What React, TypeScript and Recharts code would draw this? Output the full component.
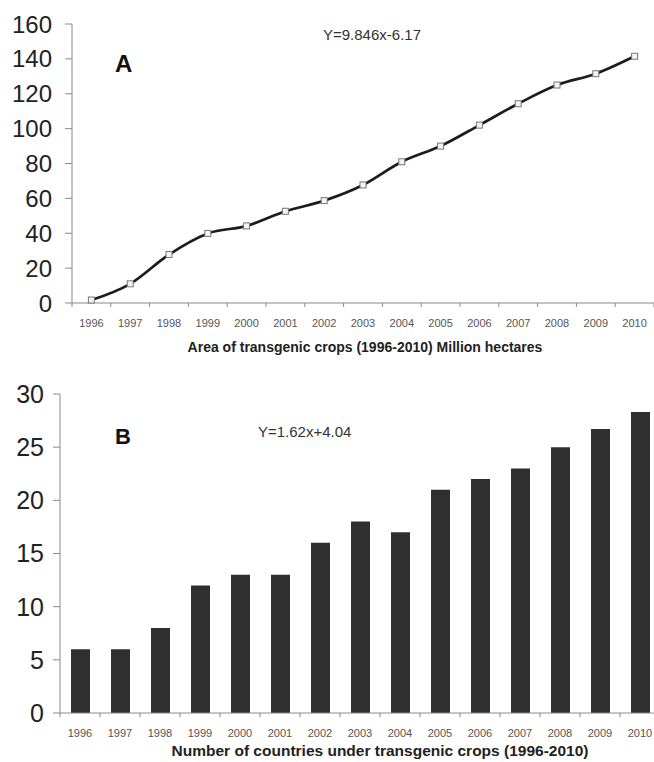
import React from 'react';
import { LineChart, Line, BarChart, Bar, XAxis, YAxis } from 'recharts';

const years = ['1996', '1997', '1998', '1999', '2000', '2001', '2002', '2003', '2004', '2005', '2006', '2007', '2008', '2009', '2010'];
const areaMha = [1.7, 11, 27.8, 39.9, 44.2, 52.6, 58.7, 67.7, 81, 90, 102, 114.3, 125, 131.5, 141.5];
const countries = [6, 6, 8, 12, 13, 13, 16, 18, 17, 21, 22, 23, 25, 26.7, 28.3];
const areaTicks = [0, 20, 40, 60, 80, 100, 120, 140, 160];
const countryTicks = [0, 5, 10, 15, 20, 25, 30];

const areaData = years.map((year, i) => ({ year, area: areaMha[i] }));
const countryData = years.map((year, i) => ({ year, n: countries[i] }));

const FONT = '"Liberation Sans", Arial, sans-serif';

function YearTick(props: any) {
  const { x, y, payload, index, visibleTicksCount, half } = props;
  const h = payload.offset || half;
  return (
    <g>
      <line x1={x - h} x2={x - h} y1={y} y2={y + 4} stroke="#8a8a8a" />
      {index === visibleTicksCount - 1 && <line x1={x + h} x2={x + h} y1={y} y2={y + 4} stroke="#8a8a8a" />}
      <text x={x} y={y + 24} textAnchor="middle" fontSize={11} fill="#555" fontFamily={FONT}>
        {payload.value}
      </text>
    </g>
  );
}

function SquareDot(props: any) {
  const { cx, cy } = props;
  if (cx == null || cy == null) return null;
  return <rect x={cx - 3} y={cy - 3} width={6} height={6} fill="#f4f4f4" stroke="#777" strokeWidth={1} />;
}

export default function App() {
  return (
    <div style={{ position: 'absolute', left: 0, top: 0, width: 654, height: 762, overflow: 'hidden', background: '#fff', fontFamily: FONT }}>
      <div style={{ position: 'absolute', left: 0, top: 0 }}>
        <LineChart width={654} height={360} data={areaData} margin={{ top: 24, right: 0, bottom: 0, left: 0 }}>
          <XAxis
            dataKey="year"
            scale="band"
            stroke="#8a8a8a"
            tickLine={false}
            tickSize={0}
            tickMargin={0}
            interval={0}
            height={57}
            tick={<YearTick half={582 / 30} />}
            label={{ value: 'Area of transgenic crops (1996-2010) Million hectares', position: 'insideBottom', offset: 8, dx: 2, fontSize: 14, fontWeight: 'bold', fill: '#222', fontFamily: FONT }}
          />
          <YAxis
            width={72}
            domain={[0, 160]}
            ticks={areaTicks}
            stroke="#8a8a8a"
            tickSize={7}
            tickMargin={13}
            tick={{ fontSize: 24, fill: '#222', fontFamily: FONT }}
          />
          <Line type="monotone" dataKey="area" stroke="#1c1c1c" strokeWidth={2.7} dot={<SquareDot />} isAnimationActive={false} />
        </LineChart>
      </div>
      <div style={{ position: 'absolute', left: 115, top: 50, fontSize: 24, fontWeight: 'bold', color: '#111' }}>A</div>
      <div style={{ position: 'absolute', left: 323, top: 26, fontSize: 15, color: '#333' }}>Y=9.846x-6.17</div>

      <div style={{ position: 'absolute', left: 0, top: 360 }}>
        <BarChart width={660} height={402} data={countryData} margin={{ top: 34, right: 0, bottom: 0, left: 0 }}>
          <XAxis
            dataKey="year"
            stroke="#8a8a8a"
            tickLine={false}
            tickSize={0}
            tickMargin={0}
            interval={0}
            height={49}
            tick={<YearTick half={20} />}
            label={{ value: 'Number of countries under transgenic crops (1996-2010)', position: 'insideBottom', offset: 6, dx: 20, fontSize: 15.5, fontWeight: 'bold', fill: '#222', fontFamily: FONT }}
          />
          <YAxis
            width={60}
            domain={[0, 30]}
            ticks={countryTicks}
            stroke="#8a8a8a"
            tickSize={7}
            tickMargin={9}
            tick={{ fontSize: 25, fill: '#222', fontFamily: FONT }}
          />
          <Bar dataKey="n" fill="#2f2f2f" barSize={19} isAnimationActive={false} />
        </BarChart>
      </div>
      <div style={{ position: 'absolute', left: 115, top: 424, fontSize: 22, fontWeight: 'bold', color: '#111' }}>B</div>
      <div style={{ position: 'absolute', left: 258, top: 423, fontSize: 15, color: '#333' }}>Y=1.62x+4.04</div>
    </div>
  );
}
